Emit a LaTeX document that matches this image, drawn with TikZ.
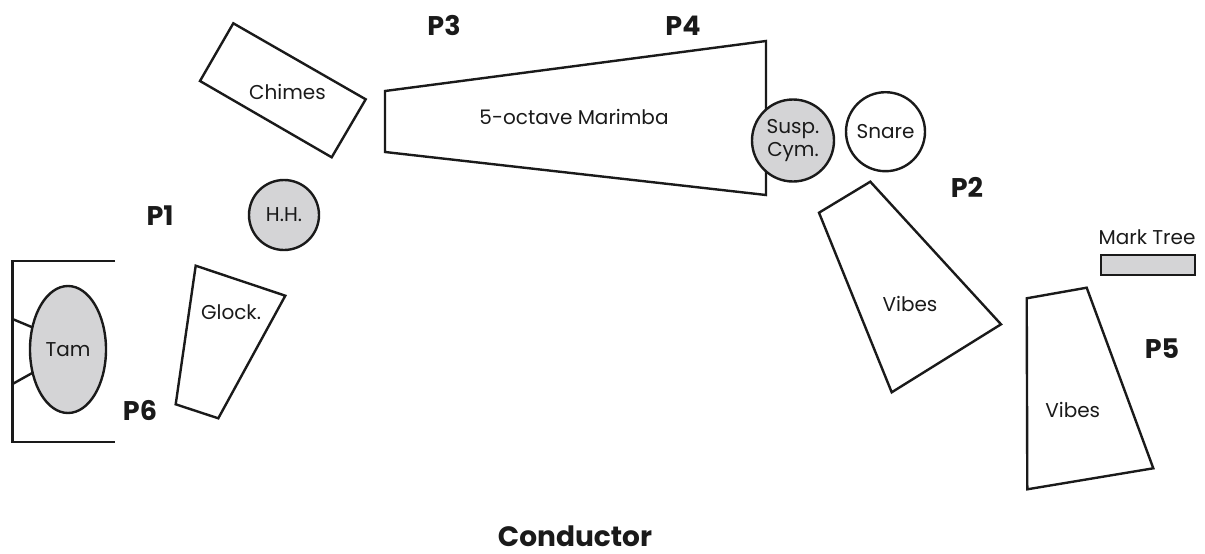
\documentclass[tikz,border=0pt]{standalone}
\usepackage{fontspec}
\setmainfont{Poppins}
\usetikzlibrary{shapes.geometric}
\definecolor{instgray}{HTML}{D4D4D6}
\definecolor{ink}{HTML}{1A1A1A}
\tikzset{
  inst/.style={draw=ink, line width=2.4pt, line join=miter},
  gfill/.style={inst, fill=instgray},
  lbl/.style={font=\fontsize{20}{22}\selectfont, text=ink, inner sep=0pt},
  plbl/.style={font=\fontsize{27}{30}\selectfont\bfseries, text=ink, inner sep=0pt},
}
\begin{document}
\begin{tikzpicture}[x=1pt,y=-1pt]
\useasboundingbox (0,0) rectangle (1205,554);
% Tam bracket
\coordinate (bt) at (115,261);
\coordinate (btl) at (12.5,261);
\coordinate (bbl) at (12.5,442);
\coordinate (bb) at (115,442);
\draw[inst] (bt) -- (btl) -- (bbl) -- (bb);
\coordinate (s1a) at (12.5,319);
\coordinate (s1b) at (34,328);
\coordinate (s2a) at (12.5,384);
\coordinate (s2b) at (34,372);
\draw[inst] (s1a) -- (s1b);
\draw[inst] (s2a) -- (s2b);
\node[gfill, ellipse, minimum width=76, minimum height=127, inner sep=0pt] (tam) at (68,349.5) {};
\node[lbl] (tamt) at (68,349.5) {Tam};
% Glock
\draw[inst] (195.7,265.7) -- (285.3,295.7) -- (218.3,418.3) -- (175.7,404.3) -- cycle;
\node[lbl] (glock) at (231,312.5) {Glock.};
% Chimes
\draw[inst] (233.3,23.3) -- (365.7,99.3) -- (331.7,157.3) -- (200,81) -- cycle;
\node[lbl] (chimes) at (287.5,92) {Chimes};
% H.H.
\node[gfill, circle, minimum size=70, inner sep=0pt] (hh) at (284,215) {};
\node[lbl] (hht) at (284,215) {H.H.};
% Marimba
\draw[inst] (385,91) -- (766,41) -- (766,195) -- (385,152) -- cycle;
\node[lbl] (marimba) at (574,117) {5-octave Marimba};
% Susp Cym
\node[gfill, circle, minimum size=82, inner sep=0pt] (cym) at (793,140.5) {};
\node[lbl, align=center, font=\fontsize{20}{23}\selectfont] (cymt) at (793,140.5) {Susp.\\Cym.};
% Snare
\node[inst, circle, minimum size=79, inner sep=0pt] (snare) at (885.5,131.7) {};
\node[lbl] (snaret) at (885.5,131.7) {Snare};
% Vibes 1
\draw[inst] (819,212.7) -- (870.3,181.7) -- (1001,324.3) -- (891.7,392.3) -- cycle;
\node[lbl] (vibes1) at (910,303.5) {Vibes};
% Vibes 2
\draw[inst] (1026.7,298.3) -- (1086.7,287.7) -- (1153.3,468.3) -- (1027.3,489.3) -- cycle;
\node[lbl] (vibes2) at (1072.7,410) {Vibes};
% Mark tree
\draw[gfill] (1100.7,255) rectangle (1195,275);
\node[lbl] (mark) at (1147,237) {Mark Tree};
% player labels
\node[plbl] (p1) at (160,216) {P1};
\node[plbl] (p2) at (967,187) {P2};
\node[plbl] (p3) at (444,25.5) {P3};
\node[plbl] (p4) at (683,25.5) {P4};
\node[plbl] (p5) at (1162,348.5) {P5};
\node[plbl] (p6) at (140,410) {P6};
\node[plbl, font=\fontsize{28}{32}\selectfont\bfseries] (cond) at (575,536) {Conductor};
\end{tikzpicture}
\end{document}
